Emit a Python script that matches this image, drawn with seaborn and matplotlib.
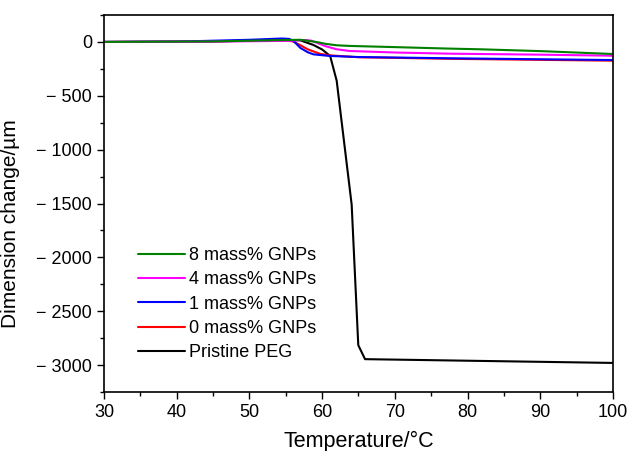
import matplotlib
matplotlib.use("Agg")
import matplotlib.pyplot as plt
from matplotlib.ticker import MultipleLocator, FuncFormatter
import seaborn as sns
import pandas as pd

# Pristine PEG
temp_peg = [30, 45, 55, 57, 58.8, 60, 61.1, 62.0, 64.06, 64.97, 65.9, 100]
dim_peg = [0, 5, 20, 15, -28, -70, -130, -360, -1510, -2815, -2945, -2980]

# 0 mass% GNPs
temp_0 = [30, 40, 50, 55, 56, 57, 58, 59.7, 61, 65, 78, 100]
dim_0 = [0, 2, 10, 15, 5, -30, -68, -110, -124, -142, -157, -174]

# 1 mass% GNPs
temp_1 = [30, 40, 50, 54.5, 55.5, 56.2, 57, 58, 58.8, 61, 65, 78, 100]
dim_1 = [0, 3, 20, 32, 28, 0, -55, -95, -115, -130, -140, -152, -168]

# 4 mass% GNPs
temp_4 = [30, 45, 55, 57.6, 58.5, 59.2, 60.5, 62, 63.8, 70, 77.6, 90, 100]
dim_4 = [0, 3, 10, 18, 12, -6, -40, -68, -84, -98, -109, -118, -128]

# 8 mass% GNPs
temp_8 = [30, 45, 55, 57, 59.2, 60.5, 62, 63.8, 70, 77.6, 81.7, 90, 100]
dim_8 = [0, 5, 18, 20, 0, -18, -31, -37, -48, -62, -68, -85, -112]

series = [
    ("Pristine PEG", temp_peg, dim_peg, "black"),
    ("0 mass% GNPs", temp_0, dim_0, "#ff0000"),
    ("1 mass% GNPs", temp_1, dim_1, "#0000ff"),
    ("4 mass% GNPs", temp_4, dim_4, "#ff00ff"),
    ("8 mass% GNPs", temp_8, dim_8, "#008000"),
]

sns.set_style("ticks")
plt.rcParams["font.family"] = ["Liberation Sans", "DejaVu Sans"]
plt.rcParams["font.size"] = 13
plt.rcParams["text.color"] = "black"
plt.rcParams["axes.labelcolor"] = "black"
plt.rcParams["xtick.color"] = "black"
plt.rcParams["ytick.color"] = "black"

fig = plt.figure(figsize=(6.28, 4.51), dpi=100)
ax = fig.add_axes([0.1656, 0.1308, 0.8105, 0.8359])

for name, t, d, c in series:
    df = pd.DataFrame({"Temperature": t, "Dimension": d})
    sns.lineplot(data=df, x="Temperature", y="Dimension", color=c, lw=1.5,
                 sort=False, estimator=None, label=name, ax=ax)

ax.set_xlim(30, 100)
ax.set_ylim(-3250, 250)
ax.xaxis.set_major_locator(MultipleLocator(10))
ax.xaxis.set_minor_locator(MultipleLocator(5))
ax.yaxis.set_major_locator(MultipleLocator(500))
ax.yaxis.set_minor_locator(MultipleLocator(250))
ax.yaxis.set_major_formatter(FuncFormatter(
    lambda v, p: "0" if v == 0 else ("\u2212 %d" % abs(v) if v < 0 else "%d" % v)))
ax.tick_params(which="major", length=5, width=1, direction="out", labelsize=13,
               colors="black")
ax.tick_params(which="minor", length=3, width=1, direction="out", colors="black")
for s in ax.spines.values():
    s.set_linewidth(1.2)
    s.set_color("black")
ax.set_xlabel("Temperature/°C", fontsize=15.5, labelpad=7)
ax.set_ylabel("Dimension change/\u00b5m", fontsize=15, labelpad=2)
ax.yaxis.set_label_coords(-0.165, 0.446)

handles, labels = ax.get_legend_handles_labels()
ax.legend(handles[::-1], labels[::-1], loc="upper left", bbox_to_anchor=(0.0668, 0.384),
          frameon=False, borderpad=0, borderaxespad=0, handlelength=2.6,
          handletextpad=0.2, labelspacing=0.4, fontsize=13)

fig.savefig("out.png", dpi=100)
